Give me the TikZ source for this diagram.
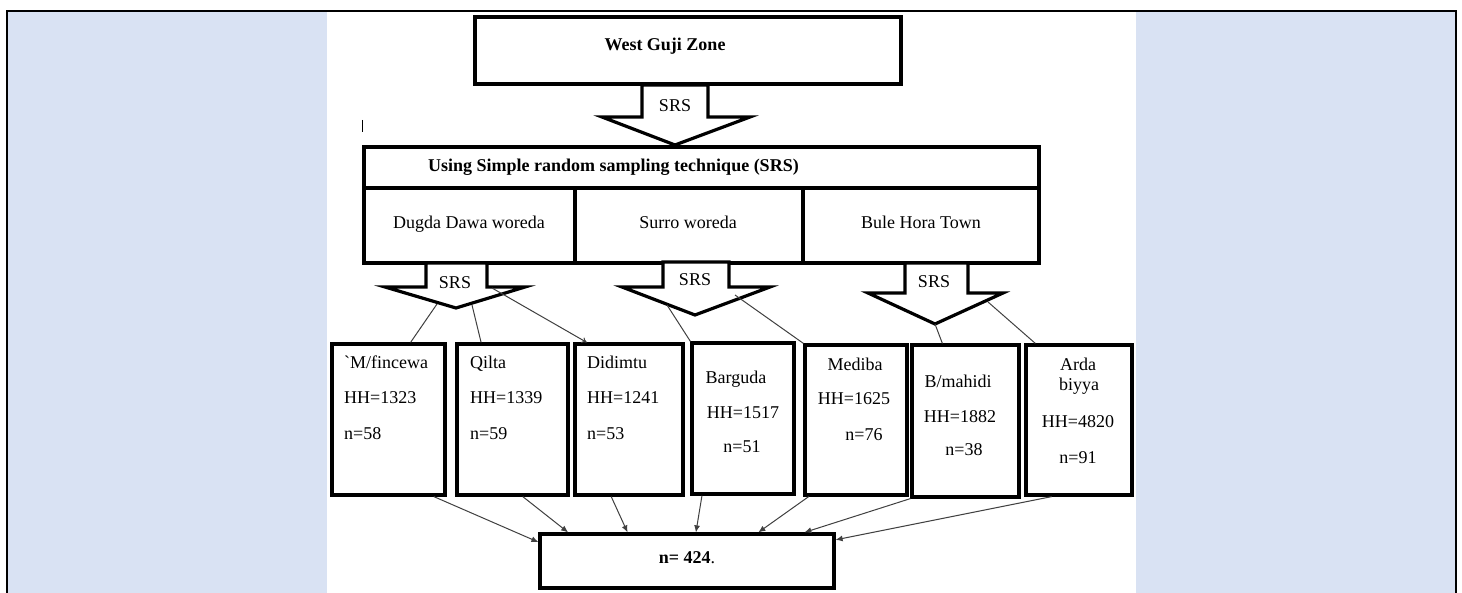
\documentclass[tikz,border=0pt]{standalone}
\usepackage{fontspec}
\setmainfont{Liberation Serif}
\usetikzlibrary{arrows.meta,calc}
\definecolor{panelblue}{HTML}{D9E2F3}
\definecolor{lnk}{HTML}{404040}
\begin{document}
\begin{tikzpicture}[x=1pt,y=-1pt,
  box/.style={draw=black, line width=3.2pt, fill=white, inner sep=0pt},
  txt/.style={inner sep=0pt, font=\fontsize{18}{21}\selectfont, anchor=base},
  btxt/.style={txt, font=\fontsize{18}{21}\selectfont\bfseries},
  blockarr/.style={draw=black, line width=3.2pt, fill=white, line join=miter},
  conn/.style={draw=lnk, line width=1pt},
  connarr/.style={conn, -{Latex[length=7pt,width=6pt]}},
  openarr/.style={conn, -{To[length=5pt,width=6pt]}},
  frameline/.style={draw=black, line width=2pt}]
\useasboundingbox (0,0) rectangle (1462,593);
\fill[white] (0,0) rectangle (1462,593);
% side panels
\fill[panelblue] (8,12.5) rectangle (327,593);
\fill[panelblue] (1136,12.5) rectangle (1455,593);
\draw[frameline] (7,593) -- (7,11.5) -- (1456,11.5) -- (1456,593);
% stray mark
\draw[line width=1pt] (362,120) -- (362,132);
% top boxes
\node[box, minimum width=426pt, minimum height=67pt] (wgz) at (688,50.5) {};
\node[btxt] (wgzt) at (665,51) {West Guji Zone};
\node[box, minimum width=675pt, minimum height=41pt] (srs) at (701.5,167.5) {};
\node[btxt, anchor=base west] (srst) at (428,172) {Using Simple random sampling technique (SRS)};
\node[box, minimum width=211pt, minimum height=75pt] (dd) at (469.5,225.5) {};
\node[box, minimum width=228pt, minimum height=75pt] (su) at (689,225.5) {};
\node[box, minimum width=236pt, minimum height=75pt] (bh) at (921,225.5) {};
\node[txt] (ddt) at (469,229) {Dugda Dawa woreda};
\node[txt] (sut) at (688,229) {Surro woreda};
\node[txt] (bht) at (921,229) {Bule Hora Town};
% block arrows
\draw[blockarr] (642,85) -- (708,85) -- (708,117) -- (750,117) -- (675,145) -- (602,117) -- (642,117) -- cycle;
\node[txt] (s1) at (675,112) {SRS};
\draw[blockarr] (426,263) -- (487,263) -- (487,287) -- (525,287) -- (456,308) -- (385,287) -- (426,287) -- cycle;
\node[txt] (s2) at (455,289) {SRS};
\draw[blockarr] (663,262) -- (729,262) -- (729,287) -- (770,287) -- (695,315) -- (622,287) -- (663,287) -- cycle;
\node[txt] (s3) at (695,286) {SRS};
\draw[blockarr] (905,263) -- (968,263) -- (968,293) -- (1003,293) -- (935,324) -- (868,293) -- (905,293) -- cycle;
\node[txt] (s4) at (934,288) {SRS};
% connector start points on arrow heads
\coordinate (a2l) at (437,304);
\coordinate (a2m) at (472,305);
\coordinate (a2r) at (492,288);
\coordinate (a3l) at (667,305);
\coordinate (a3r) at (735,295);
\coordinate (a4t) at (935,324);
\coordinate (a4r) at (988,302);
% lower boxes
\node[box, minimum width=113pt, minimum height=151pt] (mf) at (388.5,419.5) {};
\node[box, minimum width=111pt, minimum height=151pt] (qi) at (512.5,419.5) {};
\node[box, minimum width=108pt, minimum height=151pt] (di) at (629,419.5) {};
\node[box, minimum width=102pt, minimum height=151pt] (ba) at (743,418.5) {};
\node[box, minimum width=102pt, minimum height=150pt] (me) at (856,420) {};
\node[box, minimum width=107pt, minimum height=152pt] (bm) at (965.5,421) {};
\node[box, minimum width=106pt, minimum height=150pt] (ab) at (1079,420) {};
\node[box, minimum width=294pt, minimum height=54pt] (tot) at (687,561) {};
% lower texts
\node[txt, anchor=base west] (mf1) at (344,369) {\textasciigrave M/fincewa};
\node[txt, anchor=base west] (mf2) at (344,404) {HH=1323};
\node[txt, anchor=base west] (mf3) at (344,439) {n=58};
\node[txt, anchor=base west] (qi1) at (470,369) {Qilta};
\node[txt, anchor=base west] (qi2) at (470,404) {HH=1339};
\node[txt, anchor=base west] (qi3) at (470,439) {n=59};
\node[txt, anchor=base west] (di1) at (587,369) {Didimtu};
\node[txt, anchor=base west] (di2) at (587,404) {HH=1241};
\node[txt, anchor=base west] (di3) at (587,439) {n=53};
\node[txt] (ba1) at (736,384) {Barguda};
\node[txt] (ba2) at (743,418) {HH=1517};
\node[txt] (ba3) at (742,453) {n=51};
\node[txt] (me1) at (855,371) {Mediba};
\node[txt] (me2) at (854,405) {HH=1625};
\node[txt] (me3) at (864,440) {n=76};
\node[txt] (bm1) at (958,388) {B/mahidi};
\node[txt] (bm2) at (960,422) {HH=1882};
\node[txt] (bm3) at (964,456) {n=38};
\node[txt] (ab1) at (1078,371) {Arda};
\node[txt] (ab2) at (1079,391) {biyya};
\node[txt] (ab3) at (1078,428) {HH=4820};
\node[txt] (ab4) at (1078,463) {n=91};
\node[txt] (tott) at (687,563) {\textbf{n= 424}.};
% top connectors
\draw[conn] (a2l) -- ($(mf.north west)!0.69!(mf.north east)$);
\draw[conn] (a2m) -- ($(qi.north west)!0.225!(qi.north east)$);
\draw[openarr] (a2r) -- ($(di.north west)!0.12!(di.north east)$);
\draw[conn] (a3l) -- (ba.north west);
\draw[conn] (a3r) -- (me.north west);
\draw[conn] (a4t) -- ($(bm.north west)!0.29!(bm.north east)$);
\draw[conn] (a4r) -- ($(ab.north west)!0.10!(ab.north east)$);
% bottom connectors
\draw[connarr] ($(mf.south west)!0.89!(mf.south east)$) -- ($(tot.north west)!0.17!(tot.south west)$);
\draw[connarr] ($(qi.south west)!0.59!(qi.south east)$) -- ($(tot.north west)!0.10!(tot.north east)$);
\draw[connarr] ($(di.south west)!0.34!(di.south east)$) -- ($(tot.north west)!0.30!(tot.north east)$);
\draw[connarr] ($(ba.south west)!0.11!(ba.south east)$) -- ($(tot.north west)!0.53!(tot.north east)$);
\draw[connarr] ($(me.south west)!0.05!(me.south east)$) -- ($(tot.north west)!0.74!(tot.north east)$);
\draw[connarr] (bm.south west) -- ($(tot.north west)!0.895!(tot.north east)$);
\draw[connarr] ($(ab.south west)!0.25!(ab.south east)$) -- ($(tot.north east)!0.13!(tot.south east)$);
\end{tikzpicture}
\end{document}
